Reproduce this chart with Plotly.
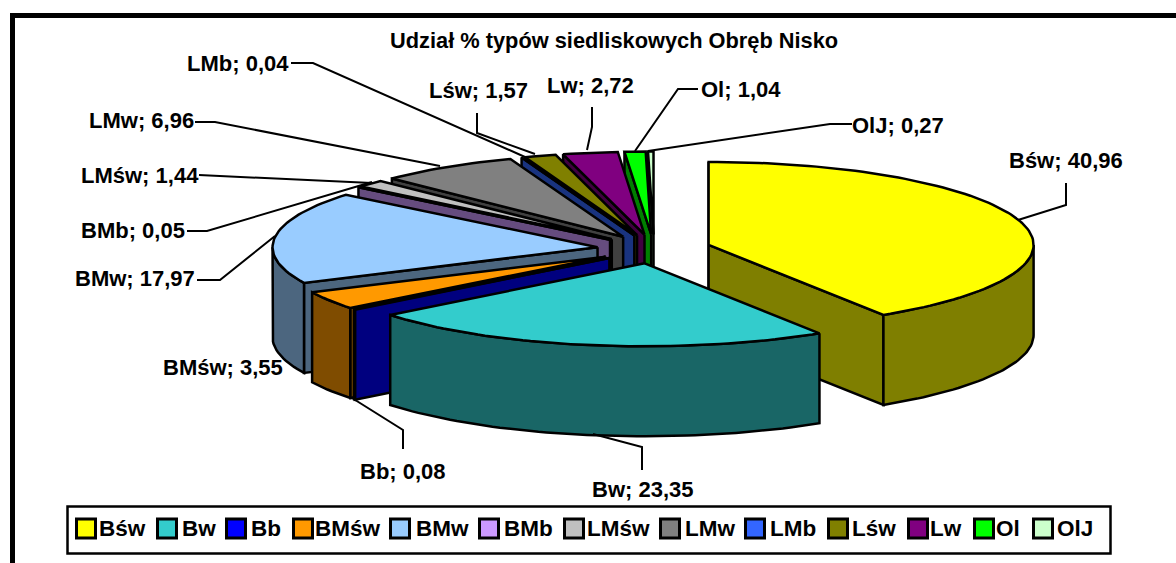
import math
import plotly.graph_objects as go

# ---- data ----
categories = ["Bśw", "Bw", "Bb", "BMśw", "BMw", "BMb", "LMśw", "LMw", "LMb", "Lśw", "Lw", "Ol", "OlJ"]
values = [40.96, 23.35, 0.08, 3.55, 17.97, 0.05, 1.44, 6.96, 0.04, 1.57, 2.72, 1.04, 0.27]
colors = ["#FFFF00", "#33CCCC", "#0000FF", "#FF9900", "#99CCFF", "#CC99FF", "#C0C0C0",
          "#808080", "#3366FF", "#808000", "#800080", "#00FF00", "#CCFFCC"]
title = "Udział % typów siedliskowych Obręb Nisko"

# ---- pie projection (layout only) ----
CX, CY, RX, RY, DEPTH, EXPLODE = 654, 249, 325, 83, 90, 0.175
FONT = "Liberation Sans, Arial, sans-serif"
LABEL_SIZE = 22
LEGEND_SIZE = 22.5
TITLE_SIZE = 21.8

# label layout: left x, centre y
label_pos = {
    "Bśw": (1010, 160), "Bw": (593, 489), "Bb": (361, 471), "BMśw": (164, 367), "BMw": (76, 278),
    "BMb": (82, 230), "LMśw": (82, 175), "LMw": (90, 120), "LMb": (188, 63), "Lśw": (430, 90),
    "Lw": (548, 85), "Ol": (702, 89), "OlJ": (853, 125),
}
# leader elbows in page pixels
leaders = [
    [(291, 63), (313, 63), (525, 157)],
    [(195, 122), (215, 122), (440, 166)],
    [(199, 175), (372, 183)],
    [(187, 231), (207, 231), (372, 182)],
    [(197, 280), (220, 280), (275, 236)],
    [(403, 449), (403, 430), (352, 398)],
    [(593, 434), (642, 447), (642, 470)],
    [(1066, 183), (1066, 205), (1018, 220)],
    [(852, 124), (830, 124), (648, 151)],
    [(698, 89), (678, 89), (635, 151)],
    [(592, 107), (592, 127), (587, 150)],
    [(477, 113), (477, 133), (535, 154)],
]
legend_swatch_x = [86, 167, 236, 303, 400, 489, 574, 670, 755, 838, 918, 984, 1043]
legend_text_x = [100, 183, 252, 316, 417, 505, 588, 686, 771, 853, 931, 997, 1058]


def darker(hex_color):
    r, g, b = (int(hex_color[i:i + 2], 16) for i in (1, 3, 5))
    return f"rgb({r // 2},{g // 2},{b // 2})"


def arc(a0, a1, ox, oy, dz=0.0):
    n = max(2, int(abs(a1 - a0) / 1.5) + 2)
    pts = []
    for i in range(n):
        a = math.radians(a0 + (a1 - a0) * i / (n - 1))
        pts.append((ox + RX * math.sin(a), oy - RY * math.cos(a) + dz))
    return pts


def poly(pts, fill):
    xs = [p[0] for p in pts] + [pts[0][0]]
    ys = [p[1] for p in pts] + [pts[0][1]]
    return go.Scatter(x=xs, y=ys, mode="lines", fill="toself", fillcolor=fill,
                      line=dict(color="black", width=2.5), hoverinfo="skip", showlegend=False)


fig = go.Figure()

total = sum(values)
slices = []
acc = 0.0
for name, v, col in zip(categories, values, colors):
    a0 = acc / total * 360
    acc += v
    a1 = acc / total * 360
    slices.append((name, a0, a1, col))

# paint from the back of the pie to the front
for name, a0, a1, col in sorted(slices, key=lambda s: -abs((s[1] + s[2]) / 2 - 180)):
    mid = math.radians((a0 + a1) / 2)
    ox = CX + EXPLODE * RX * math.sin(mid)
    oy = CY - EXPLODE * RY * math.cos(mid)
    side = darker(col)
    apex = (ox, oy)
    apex_b = (ox, oy + DEPTH)
    # radial walls that face the viewer
    p0, p1 = arc(a0, a0, ox, oy)[0], arc(a1, a1, ox, oy)[0]
    if math.sin(math.radians(a0)) < 0 or a0 == 0:
        fig.add_trace(poly([apex, p0, (p0[0], p0[1] + DEPTH), apex_b], side))
    if math.sin(math.radians(a1)) > 0:
        fig.add_trace(poly([apex, p1, (p1[0], p1[1] + DEPTH), apex_b], side))
    # outer rim, front half only
    s0, s1 = max(a0, 90), min(a1, 270)
    if s1 > s0:
        fig.add_trace(poly(arc(s0, s1, ox, oy) + arc(s1, s0, ox, oy, DEPTH), side))
    # top face
    fig.add_trace(poly([apex] + arc(a0, a1, ox, oy), col))

# leader lines
for pts in leaders:
    fig.add_trace(go.Scatter(x=[p[0] for p in pts], y=[p[1] for p in pts], mode="lines",
                             line=dict(color="black", width=2), hoverinfo="skip", showlegend=False))

# legend swatches
fig.add_trace(go.Scatter(x=legend_swatch_x, y=[528.5] * len(categories), mode="markers",
                         marker=dict(symbol="square", size=19, color=colors,
                                     line=dict(color="black", width=3)),
                         hoverinfo="skip", showlegend=False))

annotations = [dict(x=614, y=40, text=f"<b>{title}</b>", showarrow=False, xref="x", yref="y",
                    xanchor="center", yanchor="middle",
                    font=dict(family=FONT, size=TITLE_SIZE, color="black"))]
for name, v in zip(categories, values):
    x, y = label_pos[name]
    annotations.append(dict(x=x, y=y, xshift=-3, text="<b>" + f"{name}; {v:.2f}".replace(".", ",") + "</b>",
                            showarrow=False, xref="x", yref="y", xanchor="left", yanchor="middle",
                            font=dict(family=FONT, size=LABEL_SIZE, color="black")))
for name, x in zip(categories, legend_text_x):
    annotations.append(dict(x=x, y=528, xshift=-3, text=f"<b>{name}</b>", showarrow=False, xref="x", yref="y",
                            xanchor="left", yanchor="middle",
                            font=dict(family=FONT, size=LEGEND_SIZE, color="black")))

shapes = [
    dict(type="rect", xref="x", yref="y", x0=10, x1=15, y0=13, y1=563, fillcolor="black", line_width=0),
    dict(type="rect", xref="x", yref="y", x0=10, x1=1176, y0=13, y1=18, fillcolor="black", line_width=0),
    dict(type="rect", xref="x", yref="y", x0=67.5, x1=1110.5, y0=506.5, y1=553.5, fillcolor="rgba(0,0,0,0)",
         line=dict(color="black", width=2.5)),
]

fig.update_layout(
    width=1176, height=563, margin=dict(l=0, r=0, t=0, b=0),
    paper_bgcolor="white", plot_bgcolor="white", showlegend=False,
    xaxis=dict(range=[0, 1176], visible=False, fixedrange=True),
    yaxis=dict(range=[563, 0], visible=False, fixedrange=True),
    annotations=annotations, shapes=shapes,
)
fig.write_html("out.html", config={"displayModeBar": False},
               post_script="document.body.style.margin='0';document.body.style.overflow='hidden';")
